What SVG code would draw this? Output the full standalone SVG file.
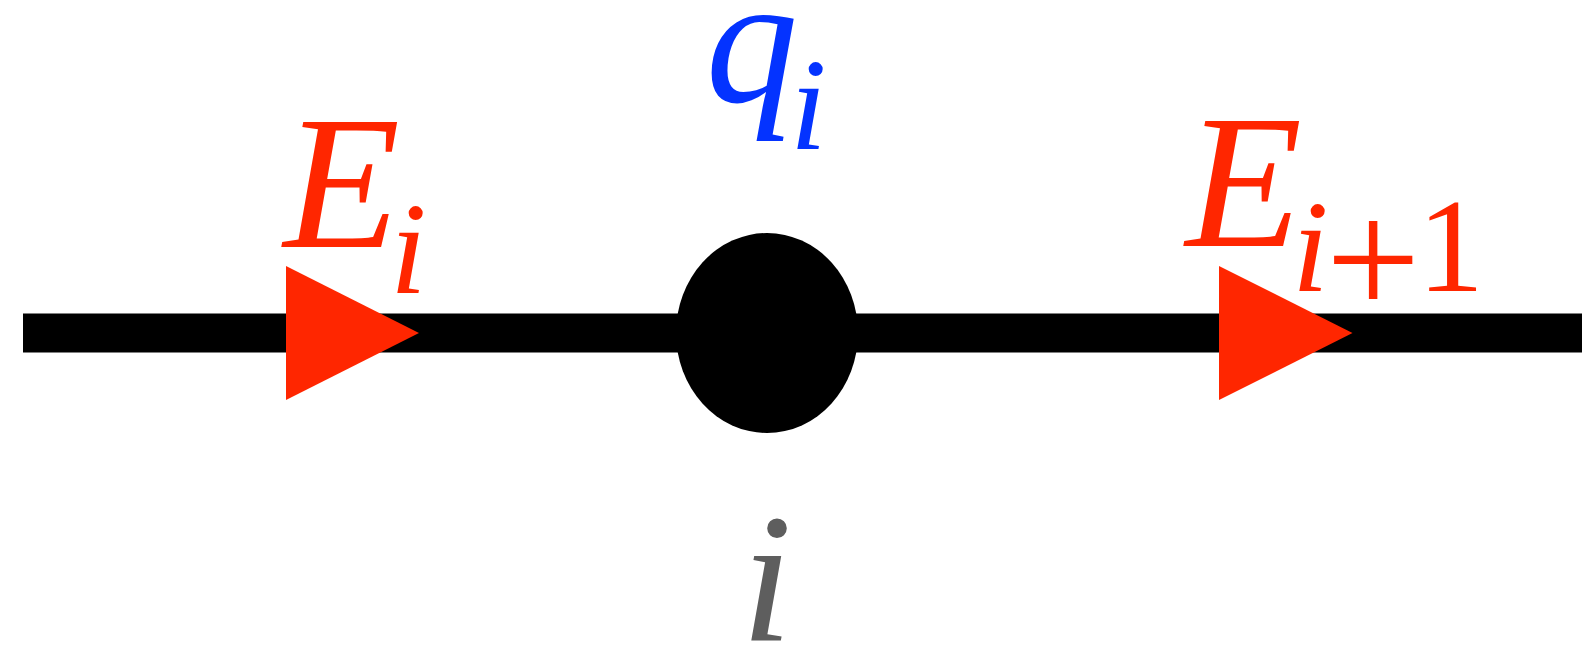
<svg xmlns="http://www.w3.org/2000/svg" width="1582" height="649" viewBox="0 0 1582 649">
  <style>
    .m { font-family: "Liberation Serif", "Times New Roman", "DejaVu Serif", serif; font-style: italic; }
    .r { font-family: "Liberation Serif", "Times New Roman", "DejaVu Serif", serif; font-style: normal; }
    .big { font-size: 185px; }
    .bigE { font-size: 191px; }
    .sub { font-size: 132px; }
    .red { fill: #FF2600; }
    .blue { fill: #0433FF; }
    .gray { fill: #5E5E5E; }
    .arrow { fill: #FF2600; }
  </style>
  <rect width="1582" height="649" fill="#ffffff"/>
  <g id="connectors">
    <rect x="23" y="313.5" width="1559" height="39" fill="#000000"/>
    <polygon class="arrow" points="286,266 419,333 286,400"/>
    <polygon class="arrow" points="1219,266 1352.5,333 1219,400"/>
  </g>
  <g id="node-i">
    <ellipse cx="767" cy="333" rx="91" ry="100" fill="#000000"/>
    <text class="m big gray" x="741" y="641">i</text>
  </g>
  <g id="label-q">
    <text class="m big blue" x="705.6" y="101.5">q</text>
    <text class="m sub blue" x="790" y="149.3">i</text>
  </g>
  <g id="label-Ei">
    <text class="m bigE red" x="283.5" y="247.4">E</text>
    <text class="m sub red" x="390" y="293.4">i</text>
  </g>
  <g id="label-Ei1">
    <text class="m bigE red" x="1185.5" y="245.8">E</text>
    <text class="m sub red" x="1292" y="291.3">i</text>
    <text class="r red" font-size="168" x="1325.7" y="316">+</text>
    <text class="r red" font-size="133" x="1417.6" y="291">1</text>
  </g>
</svg>
